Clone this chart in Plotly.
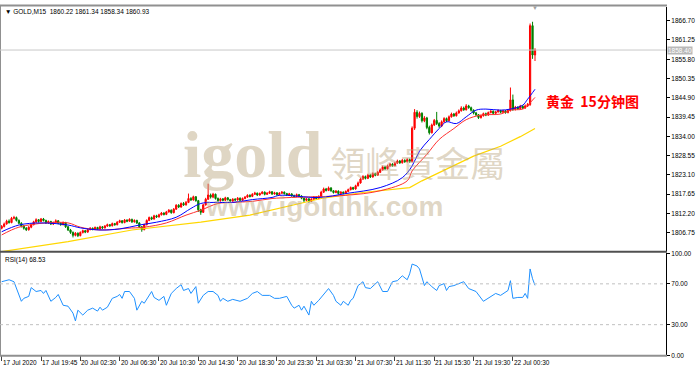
import plotly.graph_objects as go

# ---------------- data ----------------
closes = [1808.5, 1809.2, 1810.0, 1809.6, 1810.8, 1811.0,
 1810.2, 1809.4, 1808.6, 1808.0, 1807.6, 1808.3,
 1809.0, 1809.8, 1810.4, 1809.9, 1810.6, 1810.2,
 1809.5, 1809.9, 1809.2, 1809.6, 1810.1, 1809.4,
 1809.0, 1809.6, 1808.4, 1807.5, 1806.8, 1806.0, 1806.6, 1805.9,
 1806.8, 1807.3, 1806.9, 1807.6, 1808.0, 1807.7, 1808.2, 1807.8, 1808.4, 1808.1, 1808.6, 1809.0, 1808.7,
 1809.3, 1809.0, 1809.7, 1810.1, 1809.6, 1810.3, 1810.0, 1810.5, 1809.8, 1810.2, 1809.5, 1808.4, 1807.6, 1809.0,
 1810.2, 1811.0, 1810.6, 1811.5, 1811.2, 1811.8,
 1812.3, 1811.9, 1812.6, 1813.1, 1812.4, 1813.4,
 1814.5, 1814.0, 1815.0, 1814.6, 1815.3,
 1816.4, 1816.0, 1816.9, 1815.8, 1813.2,
 1812.5, 1814.6, 1816.2, 1817.4, 1816.8, 1817.6,
 1816.4, 1815.8, 1816.3, 1815.9, 1816.6, 1816.1, 1815.7, 1816.2, 1816.0, 1816.5, 1815.9, 1816.4, 1816.8,
 1817.3, 1817.0, 1817.6, 1817.9, 1817.4, 1817.8, 1818.2, 1817.6, 1817.9, 1818.3, 1817.7, 1818.0, 1817.5, 1817.9, 1818.2, 1817.8, 1817.4, 1817.7, 1817.2, 1817.0, 1817.5, 1817.1,
 1816.5, 1815.9, 1816.3, 1815.6, 1816.2, 1816.8, 1816.4, 1817.0,
 1818.2, 1819.1, 1818.7, 1819.4, 1818.6, 1818.1, 1818.5, 1817.8, 1818.2, 1817.9, 1818.4, 1818.9, 1819.5, 1819.1, 1820.0,
 1820.8, 1821.9, 1822.6, 1822.1, 1823.0, 1822.5, 1823.4, 1823.0, 1823.8,
 1824.5, 1825.3, 1824.8, 1825.6, 1826.1, 1825.7, 1826.4, 1827.0, 1826.5, 1827.2, 1826.8, 1827.4, 1826.9,
 1836.3, 1840.8,
 1839.6, 1840.5, 1838.4, 1839.2, 1836.5, 1835.0, 1837.2, 1838.5, 1837.6,
 1836.9, 1838.1, 1839.0, 1838.4, 1839.5, 1840.3, 1839.8, 1840.6, 1841.2,
 1842.0, 1841.5, 1842.6, 1842.1, 1841.4,
 1840.6, 1840.1, 1839.3, 1839.8, 1840.4, 1840.0, 1840.7, 1841.1, 1840.5, 1840.9, 1841.3, 1840.8, 1841.2, 1840.7, 1841.4,
 1844.3,
 1841.6, 1842.2, 1841.8, 1842.5, 1842.0, 1842.6, 1843.0,
 1865.3, 1857.0, 1858.4]

opens = [1808.0, 1808.5, 1809.2, 1810.0, 1809.6, 1810.8,
 1811.0, 1810.2, 1809.4, 1808.6, 1808.0, 1807.6,
 1808.3, 1809.0, 1809.8, 1810.4, 1809.9, 1810.6,
 1810.2, 1809.5, 1809.9, 1809.2, 1809.6, 1810.1,
 1809.4, 1809.0, 1809.6, 1808.4, 1807.5, 1806.8, 1806.0, 1806.6,
 1805.9, 1806.8, 1807.3, 1806.9, 1807.6, 1808.0, 1807.7, 1808.2, 1807.8, 1808.4, 1808.1, 1808.6, 1809.0,
 1808.7, 1809.3, 1809.0, 1809.7, 1810.1, 1809.6, 1810.3, 1810.0, 1810.5, 1809.8, 1810.2, 1809.5, 1808.4, 1807.6,
 1809.0, 1810.2, 1811.0, 1810.6, 1811.5, 1811.2,
 1811.8, 1812.3, 1811.9, 1812.6, 1813.1, 1812.4,
 1813.4, 1814.5, 1814.0, 1815.0, 1814.6,
 1815.3, 1816.4, 1816.0, 1816.9, 1815.8,
 1813.2, 1812.5, 1814.6, 1816.2, 1817.4, 1816.8,
 1817.6, 1816.4, 1815.8, 1816.3, 1815.9, 1816.6, 1816.1, 1815.7, 1816.2, 1816.0, 1816.5, 1815.9, 1816.4,
 1816.8, 1817.3, 1817.0, 1817.6, 1817.9, 1817.4, 1817.8, 1818.2, 1817.6, 1817.9, 1818.3, 1817.7, 1818.0, 1817.5, 1817.9, 1818.2, 1817.8, 1817.4, 1817.7, 1817.2, 1817.0, 1817.5,
 1817.1, 1816.5, 1815.9, 1816.3, 1815.6, 1816.2, 1816.8, 1816.4,
 1817.0, 1818.2, 1819.1, 1818.7, 1819.4, 1818.6, 1818.1, 1818.5, 1817.8, 1818.2, 1817.9, 1818.4, 1818.9, 1819.5, 1819.1,
 1820.0, 1820.8, 1821.9, 1822.6, 1822.1, 1823.0, 1822.5, 1823.4, 1823.0,
 1823.8, 1824.5, 1825.3, 1824.8, 1825.6, 1826.1, 1825.7, 1826.4, 1827.0, 1826.5, 1827.2, 1826.8, 1827.4,
 1826.9, 1836.3,
 1840.8, 1839.6, 1840.5, 1838.4, 1839.2, 1836.5, 1835.0, 1837.2, 1838.5,
 1837.6, 1836.9, 1838.1, 1839.0, 1838.4, 1839.5, 1840.3, 1839.8, 1840.6,
 1841.2, 1842.0, 1841.5, 1842.6, 1842.1,
 1841.4, 1840.6, 1840.1, 1839.3, 1839.8, 1840.4, 1840.0, 1840.7, 1841.1, 1840.5, 1840.9, 1841.3, 1840.8, 1841.2, 1840.7,
 1841.4,
 1844.3, 1841.6, 1842.2, 1841.8, 1842.5, 1842.0, 1842.6,
 1843.0, 1865.3, 1857.0]

highs = [1808.9, 1809.6, 1810.4, 1810.5, 1811.2, 1811.5,
 1811.3, 1810.5, 1809.7, 1808.9, 1808.3, 1808.6,
 1809.3, 1810.1, 1810.8, 1810.6, 1810.9, 1810.9,
 1810.4, 1810.2, 1810.1, 1809.9, 1810.5, 1810.3,
 1809.7, 1809.9, 1809.8, 1808.6, 1807.8, 1807.1, 1806.9, 1806.8,
 1807.1, 1807.6, 1807.5, 1807.9, 1808.3, 1808.2, 1808.5, 1808.4, 1808.7, 1808.6, 1808.9, 1809.3, 1809.2,
 1809.6, 1809.5, 1810.0, 1810.4, 1810.3, 1810.6, 1810.5, 1810.8, 1810.7, 1810.5, 1810.4, 1809.7, 1808.6, 1809.3,
 1810.5, 1811.3, 1811.3, 1811.8, 1811.8, 1812.1,
 1812.6, 1812.5, 1812.9, 1813.4, 1813.3, 1813.7,
 1814.8, 1814.8, 1815.3, 1815.4, 1815.7,
 1817.8, 1816.8, 1817.2, 1817.1, 1816.0,
 1813.5, 1814.9, 1816.6, 1820.6, 1817.8, 1818.0,
 1817.8, 1816.7, 1816.6, 1816.5, 1816.9, 1816.8, 1816.3, 1816.5, 1816.5, 1816.8, 1816.7, 1816.7, 1817.1,
 1817.6, 1817.6, 1817.9, 1818.3, 1818.1, 1818.1, 1818.5, 1818.4, 1818.2, 1818.6, 1818.5, 1818.3, 1818.2, 1818.2, 1818.5, 1818.4, 1818.0, 1818.0, 1817.9, 1817.5, 1817.8, 1817.7,
 1817.3, 1816.7, 1816.6, 1816.5, 1816.5, 1817.1, 1817.0, 1817.3,
 1818.6, 1819.5, 1819.4, 1819.8, 1819.6, 1818.8, 1818.8, 1818.7, 1818.5, 1818.4, 1818.7, 1819.2, 1819.8, 1819.7, 1820.3,
 1821.2, 1822.3, 1823.0, 1822.9, 1823.4, 1823.3, 1823.8, 1823.7, 1824.2,
 1824.9, 1825.7, 1825.6, 1826.0, 1826.5, 1826.4, 1826.8, 1827.4, 1827.3, 1827.6, 1827.5, 1827.8, 1827.7,
 1836.8, 1841.7,
 1841.4, 1841.0, 1840.8, 1839.7, 1839.5, 1837.0, 1837.6, 1838.9, 1840.9,
 1838.0, 1838.5, 1839.4, 1839.3, 1839.9, 1840.7, 1840.6, 1841.0, 1841.6,
 1842.5, 1842.4, 1843.1, 1842.9, 1842.4,
 1841.6, 1840.9, 1840.3, 1840.1, 1840.7, 1840.7, 1841.0, 1841.4, 1841.3, 1841.2, 1841.6, 1841.5, 1841.5, 1841.4, 1841.7,
 1847.8,
 1845.8, 1842.6, 1842.5, 1842.9, 1842.8, 1843.0, 1843.4,
 1865.9, 1866.4, 1858.9]

lows = [1807.7, 1808.2, 1809.0, 1809.3, 1809.4, 1810.5,
 1809.9, 1809.1, 1808.2, 1807.6, 1807.2, 1807.3,
 1808.0, 1808.8, 1809.5, 1809.6, 1809.7, 1809.9,
 1809.2, 1809.2, 1808.9, 1808.9, 1809.4, 1809.1,
 1808.7, 1808.8, 1808.1, 1807.2, 1806.4, 1805.4, 1805.7, 1805.5,
 1805.7, 1806.5, 1806.6, 1806.7, 1807.4, 1807.4, 1807.5, 1807.5, 1807.6, 1807.8, 1807.9, 1808.4, 1808.4,
 1808.5, 1808.7, 1808.8, 1809.5, 1809.3, 1809.4, 1809.7, 1809.8, 1809.5, 1809.6, 1809.2, 1808.1, 1807.0, 1807.4,
 1808.8, 1810.0, 1810.3, 1810.4, 1810.9, 1811.0,
 1811.6, 1811.6, 1811.7, 1812.4, 1812.1, 1812.2,
 1813.2, 1813.7, 1813.8, 1814.3, 1814.4,
 1815.1, 1815.7, 1815.8, 1815.5, 1812.6,
 1811.8, 1812.3, 1814.4, 1816.0, 1816.4, 1816.5,
 1816.1, 1815.5, 1815.5, 1815.6, 1815.7, 1815.8, 1815.4, 1815.5, 1815.7, 1815.8, 1815.6, 1815.7, 1816.2,
 1816.6, 1816.7, 1816.8, 1817.4, 1817.1, 1817.2, 1817.6, 1817.3, 1817.4, 1817.7, 1817.4, 1817.5, 1817.2, 1817.3, 1817.7, 1817.5, 1817.1, 1817.2, 1816.9, 1816.7, 1816.8, 1816.8,
 1816.2, 1815.3, 1815.6, 1815.2, 1815.4, 1816.0, 1816.1, 1816.2,
 1816.8, 1818.0, 1818.4, 1818.5, 1818.3, 1817.8, 1817.9, 1817.5, 1817.6, 1817.6, 1817.7, 1818.2, 1818.7, 1818.8, 1818.9,
 1819.8, 1820.6, 1821.7, 1821.8, 1821.9, 1822.2, 1822.3, 1822.7, 1822.8,
 1823.6, 1824.3, 1824.5, 1824.6, 1825.4, 1825.4, 1825.5, 1826.2, 1826.2, 1826.3, 1826.5, 1826.6, 1826.5,
 1826.6, 1835.8,
 1839.0, 1839.2, 1837.9, 1838.0, 1836.0, 1834.5, 1834.8, 1836.9, 1837.2,
 1836.4, 1836.6, 1837.8, 1838.0, 1838.2, 1839.3, 1839.5, 1839.6, 1840.4,
 1841.0, 1841.2, 1841.3, 1841.8, 1841.0,
 1840.2, 1839.7, 1838.9, 1839.0, 1839.6, 1839.7, 1839.8, 1840.5, 1840.2, 1840.3, 1840.7, 1840.5, 1840.6, 1840.4, 1840.5,
 1841.0,
 1841.2, 1841.3, 1841.5, 1841.6, 1841.7, 1841.8, 1842.3,
 1842.6, 1855.9, 1855.3]

# moving averages (bar index, price)
ma_fast_idx = [0, 7, 16, 27, 32, 40, 48, 56, 63, 71, 77, 81, 86, 94, 102, 110, 113, 129, 140, 154, 163, 167, 170, 174, 178, 181, 185, 189, 193, 197, 203, 207, 212, 214, 217]
ma_fast_val = [1807.0, 1808.9, 1809.5, 1808.9, 1808.1, 1807.5, 1807.8, 1808.9, 1809.7, 1811.1, 1813.6, 1815.0, 1815.3, 1815.3, 1816.1, 1816.7, 1817.3, 1816.7, 1817.8, 1819.5, 1822.3, 1825.6, 1829.8, 1833.1, 1836.2, 1838.1, 1837.6, 1839.5, 1841.4, 1841.7, 1841.4, 1841.7, 1842.8, 1844.5, 1847.3]

ma_mid_idx = [0, 7, 18, 27, 32, 40, 51, 58, 67, 75, 81, 88, 94, 102, 110, 118, 140, 154, 165, 167, 173, 178, 184, 189, 195, 203, 207, 212, 214, 217]
ma_mid_val = [1806.1, 1808.3, 1809.5, 1809.5, 1808.3, 1807.5, 1808.0, 1808.3, 1809.5, 1811.7, 1813.1, 1815.0, 1815.3, 1815.6, 1816.4, 1816.7, 1817.3, 1818.6, 1821.4, 1824.2, 1828.9, 1833.1, 1836.2, 1838.7, 1840.0, 1840.3, 1841.4, 1841.7, 1842.8, 1845.0]

ma_slow_idx = [0, 27, 53, 81, 101, 113, 130, 147, 166, 171, 181, 192, 203, 211, 217]
ma_slow_val = [1801.4, 1804.2, 1807.5, 1809.7, 1811.7, 1813.6, 1816.4, 1818.1, 1819.5, 1821.4, 1824.8, 1828.4, 1831.2, 1833.9, 1836.2]

rsi_idx = [0, 3, 5, 8, 9, 11, 12, 14, 16, 17, 18, 20, 22, 23, 25, 27, 29, 30, 31, 33, 35, 37, 39, 40, 41, 43, 45, 47, 48, 49, 50, 52, 54, 55, 57, 58, 61, 62, 64, 66, 67, 69, 71, 73, 74, 76, 77, 79, 80, 82, 84, 86, 88, 89, 90, 92, 94, 97, 100, 102, 104, 106, 109, 111, 113, 116, 118, 119, 121, 122, 123, 125, 126, 127, 129, 133, 135, 136, 138, 139, 141, 142, 143, 145, 147, 148, 150, 153, 155, 157, 159, 161, 163, 165, 166, 167, 169, 170, 172, 173, 175, 177, 178, 180, 181, 182, 184, 186, 188, 190, 193, 196, 199, 201, 203, 206, 207, 208, 210, 212, 213, 214, 215, 216, 217]
rsi_val = [72.1, 74.0, 72.1, 52.9, 55.8, 57.7, 66.3, 62.5, 63.5, 60.6, 63.5, 52.9, 56.7, 59.6, 49.0, 48.1, 41.3, 33.7, 44.2, 39.4, 44.2, 46.2, 43.3, 47.1, 44.2, 47.1, 55.8, 57.7, 59.6, 55.8, 62.5, 62.5, 55.8, 44.2, 52.9, 51.0, 62.5, 56.7, 53.8, 57.7, 49.0, 60.6, 65.4, 69.2, 63.5, 65.4, 60.6, 67.3, 51.0, 58.7, 62.5, 62.5, 58.7, 52.9, 55.8, 52.9, 54.8, 52.9, 55.8, 60.6, 62.5, 58.7, 58.7, 55.8, 55.8, 57.7, 49.0, 46.2, 49.0, 44.2, 48.1, 39.4, 52.9, 49.0, 53.8, 65.4, 58.7, 52.9, 49.0, 52.9, 49.0, 53.8, 55.8, 68.3, 72.1, 66.3, 65.4, 72.1, 62.5, 62.5, 72.1, 73.1, 77.9, 74.0, 79.8, 89.4, 87.5, 84.6, 68.3, 72.1, 67.3, 63.5, 68.3, 70.2, 63.5, 67.3, 68.3, 70.2, 72.1, 65.4, 62.5, 52.9, 57.7, 60.6, 58.7, 63.5, 73.1, 55.8, 56.7, 56.7, 60.6, 55.8, 84.6, 75.0, 68.53]

time_tick_idx = [0, 16, 32, 48, 64, 80, 96, 112, 128, 144, 160, 176, 192, 208]
time_tick_text = ["17 Jul 2020", "17 Jul 19:45", "20 Jul 02:30", "20 Jul 06:30", "20 Jul 10:30",
                  "20 Jul 14:30", "20 Jul 18:30", "20 Jul 23:30", "21 Jul 03:30", "21 Jul 07:30",
                  "21 Jul 11:30", "21 Jul 15:30", "21 Jul 19:30", "22 Jul 00:30"]
price_ticks = [1806.75, 1812.20, 1817.65, 1823.10, 1828.55, 1834.00, 1839.45, 1844.90, 1850.35, 1855.80, 1861.25, 1866.70]
rsi_ticks = [0, 30, 70, 100]

header_text = "▼ GOLD,M15  1860.22 1861.34 1858.34 1860.93"
rsi_label = "RSI(14) 68.53"
wm_logo = "igold"
wm_cn = "領峰貴金屬"
wm_url = "www.igoldhk.com"
caption = "黄金  15分钟图"

# ---------------- layout helpers ----------------
W, H = 700, 373
def px(x):
    return x / W
def py(y):
    return 1 - y / H

XR = [-0.69, 270.3]
XD = [0, px(666)]
main_dom = [py(252), py(3)]
rsi_dom = [py(358), py(254)]
FONT = "Liberation Sans, Arial, sans-serif"

bars = list(range(len(closes)))

fig = go.Figure()
fig.add_trace(go.Candlestick(
    x=bars, open=opens, high=highs, low=lows, close=closes,
    increasing=dict(line=dict(color="#ff0000", width=1), fillcolor="#ff0000"),
    decreasing=dict(line=dict(color="#008000", width=1), fillcolor="#008000"),
    whiskerwidth=0, showlegend=False, hoverinfo="skip", xaxis="x", yaxis="y"))
fig.add_trace(go.Scatter(x=ma_slow_idx, y=ma_slow_val, mode="lines",
                         line=dict(color="#ffd700", width=1.2), showlegend=False, xaxis="x", yaxis="y"))
fig.add_trace(go.Scatter(x=ma_mid_idx, y=ma_mid_val, mode="lines",
                         line=dict(color="#ff3030", width=1, shape="spline"), showlegend=False, xaxis="x", yaxis="y"))
fig.add_trace(go.Scatter(x=ma_fast_idx, y=ma_fast_val, mode="lines",
                         line=dict(color="#0000ff", width=1, shape="spline"), showlegend=False, xaxis="x", yaxis="y"))
fig.add_trace(go.Scatter(x=rsi_idx, y=rsi_val, mode="lines",
                         line=dict(color="#1e90ff", width=1), showlegend=False, xaxis="x2", yaxis="y2"))

axis_font = dict(family=FONT, size=6.5, color="#000000")
fig.update_layout(
    width=W, height=H, margin=dict(l=0, r=0, t=0, b=0),
    paper_bgcolor="white", plot_bgcolor="white",
    xaxis=dict(domain=XD, range=XR, showticklabels=False, showgrid=False, zeroline=False,
               rangeslider=dict(visible=False), anchor="y", fixedrange=True),
    yaxis=dict(domain=main_dom, range=[1801.48, 1870.59], side="right", anchor="x",
               tickvals=price_ticks, ticktext=[f"{v:.2f}" for v in price_ticks],
               ticks="outside", ticklen=3, tickcolor="#000", showline=True, linecolor="#000",
               linewidth=1, showgrid=False, zeroline=False, tickfont=axis_font),
    xaxis2=dict(domain=XD, range=XR, anchor="y2", showticklabels=False, showgrid=False, zeroline=False,
                tickvals=time_tick_idx, ticks="outside", ticklen=5, tickcolor="#404040"),
    yaxis2=dict(domain=rsi_dom, range=[0, 100], side="right", anchor="x2",
                tickvals=rsi_ticks, ticktext=[f"{v:.2f}" for v in rsi_ticks],
                ticks="outside", ticklen=3, tickcolor="#000", showline=True, linecolor="#000",
                linewidth=1, showgrid=False, zeroline=False, tickfont=axis_font),
)

shapes = []
# frame lines
shapes.append(dict(type="line", xref="paper", yref="paper", x0=0, x1=px(667), y0=py(1.5), y1=py(1.5),
                   line=dict(color="#909090", width=2)))
shapes.append(dict(type="line", xref="paper", yref="paper", x0=px(0.5), x1=px(0.5), y0=py(358), y1=py(1),
                   line=dict(color="#909090", width=1)))
shapes.append(dict(type="line", xref="paper", yref="paper", x0=0, x1=px(667), y0=py(252.5), y1=py(252.5),
                   line=dict(color="#505050", width=2)))
shapes.append(dict(type="line", xref="paper", yref="paper", x0=0, x1=px(667), y0=py(358.5), y1=py(358.5),
                   line=dict(color="#909090", width=2)))
# RSI level lines
for lvl in (30, 70):
    shapes.append(dict(type="line", xref="paper", yref="y2", x0=0, x1=px(666), y0=lvl, y1=lvl,
                       line=dict(color="#c0c0c0", width=1, dash="dot")))
# current price line
shapes.append(dict(type="line", xref="paper", yref="y", x0=0, x1=px(666), y0=closes[-1], y1=closes[-1],
                   line=dict(color="#c8c8c8", width=1)))
fig.update_layout(shapes=shapes)

ann = []
for i, t in zip(time_tick_idx, time_tick_text):
    ann.append(dict(x=i, xref="x2", y=py(365), yref="paper", text=t, showarrow=False,
                    xanchor="left", yanchor="middle", xshift=-1, font=dict(family=FONT, size=6.5, color="#000")))
ann.append(dict(x=px(667), xref="paper", y=closes[-1], yref="y", text=f"{closes[-1]:.2f}", showarrow=False,
                xanchor="left", yanchor="middle", bgcolor="#b8b8b8", borderpad=0,
                font=dict(family=FONT, size=6.5, color="#ffffff")))
ann.append(dict(x=px(3), xref="paper", y=py(8), yref="paper", text=header_text, showarrow=False,
                xanchor="left", yanchor="middle", font=dict(family=FONT, size=6.5, color="#000")))
ann.append(dict(x=px(3), xref="paper", y=py(261), yref="paper", text=rsi_label, showarrow=False,
                xanchor="left", yanchor="middle", font=dict(family=FONT, size=6.5, color="#000")))
ann.append(dict(x=px(535), xref="paper", y=py(4), yref="paper", text="▼", showarrow=False,
                xanchor="center", yanchor="middle", font=dict(family=FONT, size=6, color="#a0a0a0")))
# watermark (single block so its parts stay together)
wm = "rgba(185,165,125,0.45)"
wm_text = (
    f"<span style='font-family:Liberation Serif, serif;font-size:66px'><b>{wm_logo}</b></span>"
    f"<span style='font-family:Noto Sans CJK TC;font-size:35px'>&nbsp;{wm_cn}</span>"
    f"<br><span style='font-size:28px'>&nbsp;&nbsp;&nbsp;<b>{wm_url}</b></span>"
)
ann.append(dict(x=px(181), xref="paper", y=py(114), yref="paper", text=wm_text, showarrow=False,
                xanchor="left", yanchor="top", align="left",
                font=dict(family="Liberation Sans, Arial", size=30, color=wm)))
# chart caption
ann.append(dict(x=px(544), xref="paper", y=py(99), yref="paper", text=f"<b>{caption}</b>", showarrow=False,
                xanchor="left", yanchor="middle", font=dict(family="Noto Sans CJK SC", size=14, color="#ff0000")))
fig.update_layout(annotations=ann)

fig.write_html("out.html")
